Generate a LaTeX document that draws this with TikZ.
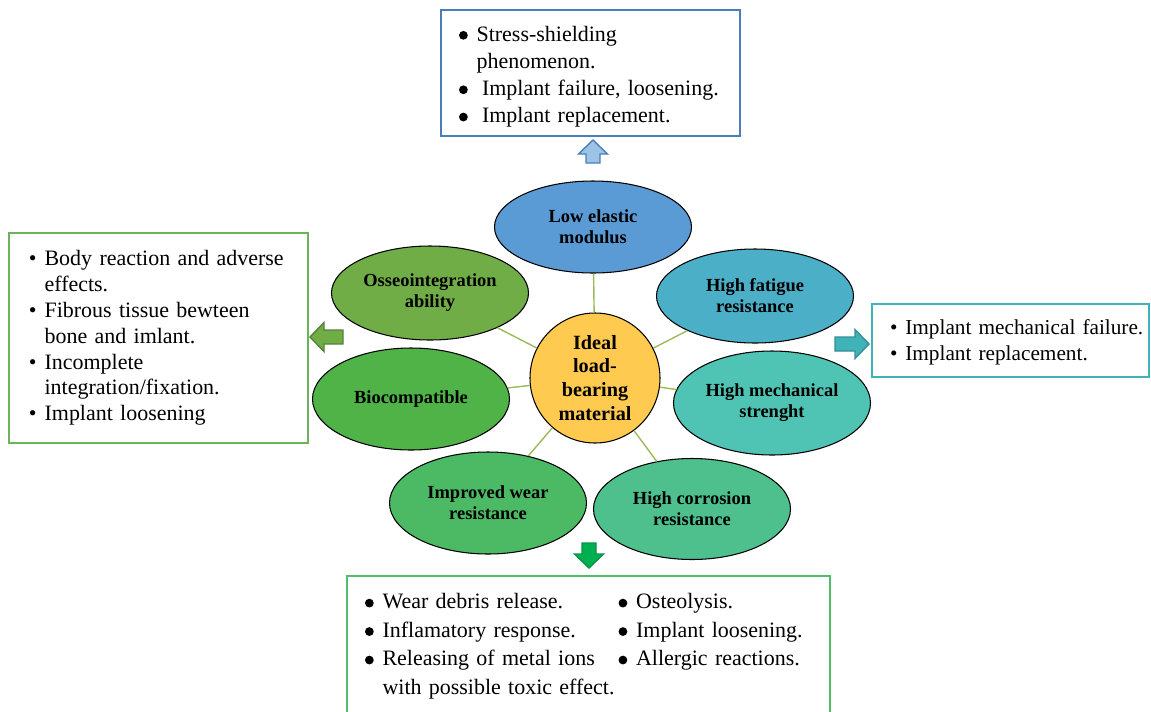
\documentclass[tikz,border=0pt]{standalone}
\usepackage{fontspec}
\setmainfont{Liberation Serif}
\usetikzlibrary{shapes.geometric}

\definecolor{lowblue}{HTML}{5B9BD5}
\definecolor{fatteal}{HTML}{4BAFC8}
\definecolor{mechteal}{HTML}{4FC4B4}
\definecolor{corrgreen}{HTML}{4DC08E}
\definecolor{weargreen}{HTML}{4CBA64}
\definecolor{biogreen}{HTML}{4FB348}
\definecolor{osseogreen}{HTML}{70AD47}
\definecolor{hubyellow}{HTML}{FFCA4F}
\definecolor{linkgreen}{HTML}{9BBB59}
\definecolor{boxblue}{HTML}{4A7EBB}
\definecolor{boxgreen}{HTML}{6CB45A}
\definecolor{boxteal}{HTML}{40B3B8}
\definecolor{boxlime}{HTML}{50BE6A}
\definecolor{arrowgreen}{HTML}{00B050}

% big round bullet for the wide lists
\newcommand\bigdot{\tikz[baseline=-3.3pt]\fill[black] (0,0) circle (2.5pt);}

\tikzset{
  petal/.style={ellipse, draw=black, line width=0.6pt, fill=#1, inner sep=0pt,
    minimum width=3.94cm, minimum height=2.0cm, align=center,
    font=\fontsize{10.5}{12}\selectfont\bfseries},
  hub/.style={circle, draw=black, line width=0.6pt, fill=hubyellow, inner sep=0pt,
    minimum size=2.6cm, align=center, font=\fontsize{11.5}{13.6}\selectfont\bfseries},
  link/.style={draw=linkgreen, line width=0.8pt},
  listbox/.style={draw=#1, line width=1.1pt, fill=white, inner ysep=0pt, inner xsep=0.36cm},
  pics/blockarrow/.style={code={
    \draw[pic actions, line width=0.8pt, line join=miter]
      (0,-0.14) -- (#1-0.28,-0.14) -- (#1-0.28,-0.29) -- (#1,0)
      -- (#1-0.28,0.29) -- (#1-0.28,0.14) -- (0,0.14) -- cycle;}}
}

\begin{document}
\begin{tikzpicture}
  \useasboundingbox (0,0) rectangle (23.02,-14.22);
  % centre and the seven properties around it
  \node[hub] (mat) at (11.90,-7.56) {Ideal\\load-\\bearing\\material};
  \node[petal=lowblue, minimum height=1.84cm] (low) at (11.86,-4.54) {Low elastic\\modulus};
  \node[petal=fatteal, minimum height=1.88cm] (fat) at (15.10,-5.92) {High fatigue\\resistance};
  \node[petal=mechteal, minimum height=2.08cm] (mech) at (15.44,-8.06) {High mechanical\\strenght};
  \node[petal=corrgreen, minimum height=2.02cm] (corr) at (13.84,-10.18) {High corrosion\\resistance};
  \node[petal=weargreen, minimum height=2.04cm] (wear) at (9.76,-10.06) {Improved wear\\resistance};
  \node[petal=biogreen, minimum height=2.04cm] (bio) at (8.22,-7.98) {Biocompatible};
  \node[petal=osseogreen, minimum height=1.88cm] (osseo) at (8.60,-5.86) {Osseointegration\\ability};
  \foreach \p in {low,fat,mech,corr,wear,bio,osseo}
    \draw[link] (mat) -- (\p);

  % consequence boxes
  \node[listbox=boxblue, text width=5.26cm, minimum height=2.52cm,
    font=\fontsize{12.5}{15.5}\selectfont] (topbox) at (11.81,-1.46) {%
    \begin{tabular}{@{}c@{\hspace{5pt}}l@{}}
      \noalign{\vskip 4pt}
      \bigdot & Stress-shielding\\
              & phenomenon.\\
      \bigdot & \hspace{0.25em}Implant failure, loosening.\\
      \bigdot & \hspace{0.25em}Implant replacement.
    \end{tabular}};
  \node[listbox=boxgreen, inner xsep=0.40cm, text width=5.18cm, minimum height=4.20cm,
    font=\fontsize{12.5}{14.7}\selectfont] (leftbox) at (3.17,-6.76) {%
    \begin{tabular}{@{}c@{\hspace{4.5pt}}l@{}}
      \textbullet & Body reaction and adverse\\
                  & effects.\\
      \textbullet & Fibrous tissue bewteen\\
                  & bone and imlant.\\
      \textbullet & Incomplete\\
                  & integration/fixation.\\
      \textbullet & Implant loosening
    \end{tabular}};
  \node[listbox=boxteal, text width=4.82cm, minimum height=1.46cm,
    font=\fontsize{12.1}{14.6}\selectfont] (rightbox) at (20.21,-6.81) {%
    \begin{tabular}{@{}c@{\hspace{4.5pt}}l@{}}
      \noalign{\vskip 2pt}
      \textbullet & Implant mechanical failure.\\
      \textbullet & Implant replacement.
    \end{tabular}};
  \node[listbox=boxlime, anchor=north west, text width=8.94cm, inner ysep=0.26cm,
    font=\fontsize{12.5}{16.2}\selectfont] (botbox) at (6.92,-11.50) {%
    \begin{tabular}{@{}c@{\hspace{5pt}}p{4.72cm}@{}c@{\hspace{5pt}}l@{}}
      \bigdot & Wear debris release.       & \bigdot & Osteolysis.\\
      \bigdot & Inflamatory response.      & \bigdot & Implant loosening.\\
      \bigdot & Releasing of metal ions    & \bigdot & Allergic reactions.\\
              & with possible toxic effect. &        & \\
              &                             &        &
    \end{tabular}};

  % block arrows towards the boxes
  \pic[rotate=90, draw=boxblue, fill=lowblue!60!white] at (11.86,-3.26) {blockarrow=0.46};
  \pic[rotate=180, draw=osseogreen!75!black, fill=osseogreen] at (6.86,-6.74) {blockarrow=0.66};
  \pic[draw=boxteal!80!black, fill=boxteal] at (16.70,-6.88) {blockarrow=0.68};
  \pic[rotate=-90, draw=arrowgreen!85!black, fill=arrowgreen] at (11.78,-10.86) {blockarrow=0.50};
\end{tikzpicture}
\end{document}
